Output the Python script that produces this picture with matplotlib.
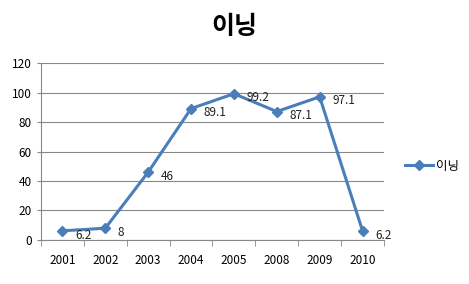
import matplotlib
matplotlib.use('Agg')
import matplotlib.pyplot as plt
import numpy as np

plt.rcParams['font.family'] = ['Noto Sans CJK KR', 'DejaVu Sans']

years = ['2001', '2002', '2003', '2004', '2005', '2008', '2009', '2010']
innings = [6.2, 8, 46, 89.1, 99.2, 87.1, 97.1, 6.2]
labels = ['6.2', '8', '46', '89.1', '99.2', '87.1', '97.1', '6.2']

fig = plt.figure(figsize=(4.69, 2.84), dpi=100)
ax = fig.add_axes([0.0874, 0.155, 0.7313, 0.623])

x = np.arange(len(years))
line_color = '#4A7EBB'
ax.plot(x, innings, color=line_color, lw=2.2, marker='D', ms=5.5, label='이닝', zorder=3)

for xi, yi, lab in zip(x, innings, labels):
    ax.annotate(lab, (xi, yi), xytext=(9, -3), textcoords='offset points',
                fontsize=8.5, va='center', ha='left', color='#222222')

ax.set_xlim(-0.5, len(years) - 0.5)
ax.set_ylim(0, 120)
ax.set_yticks(range(0, 121, 20))
ax.set_xticks(x)
ax.set_xticklabels(years)
ax.set_xticks(np.arange(-0.5, len(years)), minor=True)
ax.tick_params(axis='x', which='major', length=0, pad=10, labelsize=8.5)
ax.tick_params(axis='x', which='minor', length=4, color='#888888')
ax.tick_params(axis='y', length=3, labelsize=8.5, color='#888888')
ax.grid(axis='y', color='#888888', lw=0.8)
ax.set_axisbelow(True)

for s in ['top', 'right']:
    ax.spines[s].set_visible(False)
ax.spines['left'].set_color('#888888')
ax.spines['bottom'].set_color('#888888')

fig.text(0.5, 0.905, '이닝', ha='center', va='center', fontsize=18, fontweight='bold')
fig.legend(loc='center left', bbox_to_anchor=(0.856, 0.415), frameon=False,
           fontsize=9, handlelength=2.2, handletextpad=0.25,
           borderpad=0.2, borderaxespad=0.1)

plt.savefig('out.png', dpi=100)
